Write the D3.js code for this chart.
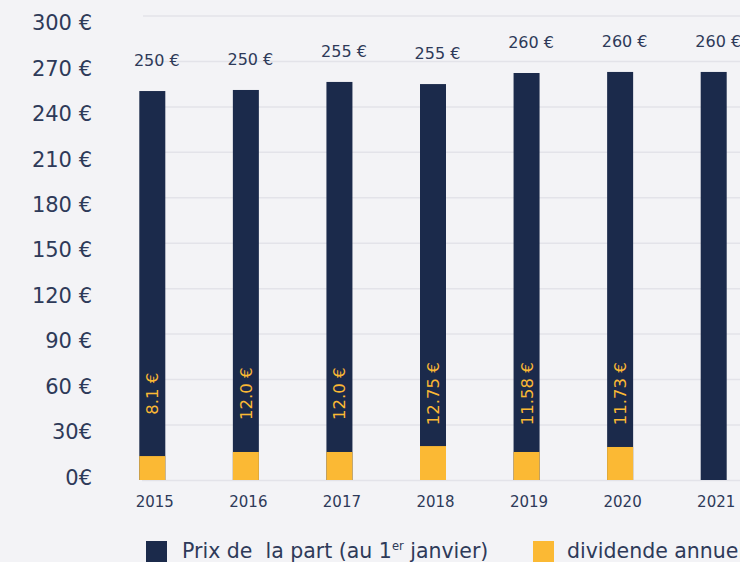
<!DOCTYPE html>
<html>
<head>
<meta charset="utf-8">
<script src="https://cdn.jsdelivr.net/npm/d3@7"></script>
<style>
  body { margin: 0; background: #f3f3f6; }
  svg { display: block; font-family: "DejaVu Sans", sans-serif; }
  .legend-text { white-space: pre; }
</style>
</head>
<body>
<div id="chart"></div>
<script>
// --- data ---
const years = ["2015", "2016", "2017", "2018", "2019", "2020", "2021"];
const priceLabels = ["250 €", "250 €", "255 €", "255 €", "260 €", "260 €", "260 €"];
const dividendLabels = ["8.1 €", "12.0 €", "12.0 €", "12.75 €", "11.58 €", "11.73 €", ""];
// bar heights as drawn (axis units), the infographic is not to scale with its labels
const barTotal = [256.8, 257.5, 262.8, 261.4, 268.7, 269.4, 269.4];
const barDividend = [15.8, 18.5, 18.5, 22.4, 18.5, 21.8, 0];
const yTicks = [0, 30, 60, 90, 120, 150, 180, 210, 240, 270, 300];
const yTickLabels = ["0€", "30€", "60 €", "90 €", "120 €", "150 €", "180 €", "210 €", "240 €", "270 €", "300 €"];
const legendItems = ["Prix de  la part (au 1", "dividende annuel"];

const W = 740, H = 562;
const navy = "#1b2a4b", gold = "#fbb934", ink = "#2e3a59", grid = "#e3e3e9";

const svg = d3.select("#chart").append("svg")
    .attr("width", W).attr("height", H);

svg.append("rect").attr("width", W).attr("height", H).attr("fill", "#f3f3f6");

const x = d3.scalePoint().domain(years).range([152.3, 713.7]);
const y = d3.scaleLinear().domain([0, 300]).range([470.4, 16]);      // gridlines
const yBar = d3.scaleLinear().domain([0, 300]).range([480, 25.6]);   // bars sit on the baseline
const barW = 26;

// gridlines
svg.append("g").selectAll("line").data(yTicks.filter(d => d > 0)).enter().append("line")
    .attr("x1", 143).attr("x2", W)
    .attr("y1", d => y(d)).attr("y2", d => y(d))
    .attr("stroke", grid).attr("stroke-width", 1.5);

// baseline
svg.append("line").attr("x1", 142).attr("x2", W)
    .attr("y1", yBar(0) + 0.5).attr("y2", yBar(0) + 0.5)
    .attr("stroke", grid).attr("stroke-width", 1.5);

// y labels
const yAxis = svg.append("g")
    .attr("transform", "translate(92,7)")
    .call(d3.axisLeft(y).tickValues(yTicks).tickFormat((d, i) => yTickLabels[i]).tickSize(0).tickPadding(0));
yAxis.select(".domain").remove();
yAxis.selectAll("text").attr("fill", ink).style("font-size", "21px").style("font-family", "DejaVu Sans, sans-serif");

// bars: navy total, gold dividend at the bottom
const bars = svg.append("g").selectAll("g").data(years).enter().append("g");

bars.append("rect")
    .attr("x", d => x(d) - barW / 2)
    .attr("width", barW)
    .attr("y", (d, i) => yBar(barTotal[i]))
    .attr("height", (d, i) => yBar(0) - yBar(barTotal[i]))
    .attr("fill", navy);

bars.append("rect")
    .attr("x", d => x(d) - barW / 2)
    .attr("width", barW)
    .attr("y", (d, i) => yBar(barDividend[i]))
    .attr("height", (d, i) => yBar(0) - yBar(barDividend[i]))
    .attr("fill", gold);

// price labels above bars
bars.append("text")
    .attr("x", d => x(d) + 4.5)
    .attr("y", (d, i) => yBar(barTotal[i]) - 25)
    .attr("text-anchor", "middle")
    .attr("fill", ink)
    .style("font-size", "16px")
    .text((d, i) => priceLabels[i]);

// dividend labels, rotated inside bars
bars.append("text")
    .attr("transform", d => `translate(${x(d) + 0.5},${yBar(57)}) rotate(-90)`)
    .attr("text-anchor", "middle")
    .attr("dominant-baseline", "central")
    .attr("fill", gold)
    .style("font-size", "16.5px")
    .text((d, i) => dividendLabels[i]);

// year labels
svg.append("g").selectAll("text").data(years).enter().append("text")
    .attr("x", d => x(d) + 2.5)
    .attr("y", 507)
    .attr("text-anchor", "middle")
    .attr("fill", ink)
    .style("font-size", "15px")
    .text(d => d);

// legend
const legend = svg.append("g");
legend.append("rect").attr("x", 146).attr("y", 541).attr("width", 21).attr("height", 21).attr("fill", navy);
const lt = legend.append("text").attr("class", "legend-text")
    .attr("x", 182).attr("y", 558).attr("fill", ink).style("font-size", "20.5px");
lt.append("tspan").text(legendItems[0]);
lt.append("tspan").attr("dy", -8).style("font-size", "11.5px").text("er");
lt.append("tspan").attr("dy", 8).text(" janvier)");

legend.append("rect").attr("x", 533).attr("y", 541).attr("width", 21).attr("height", 21).attr("fill", gold);
legend.append("text").attr("class", "legend-text")
    .attr("x", 567).attr("y", 558).attr("fill", ink).style("font-size", "20.5px")
    .text(legendItems[1]);
</script>
</body>
</html>
